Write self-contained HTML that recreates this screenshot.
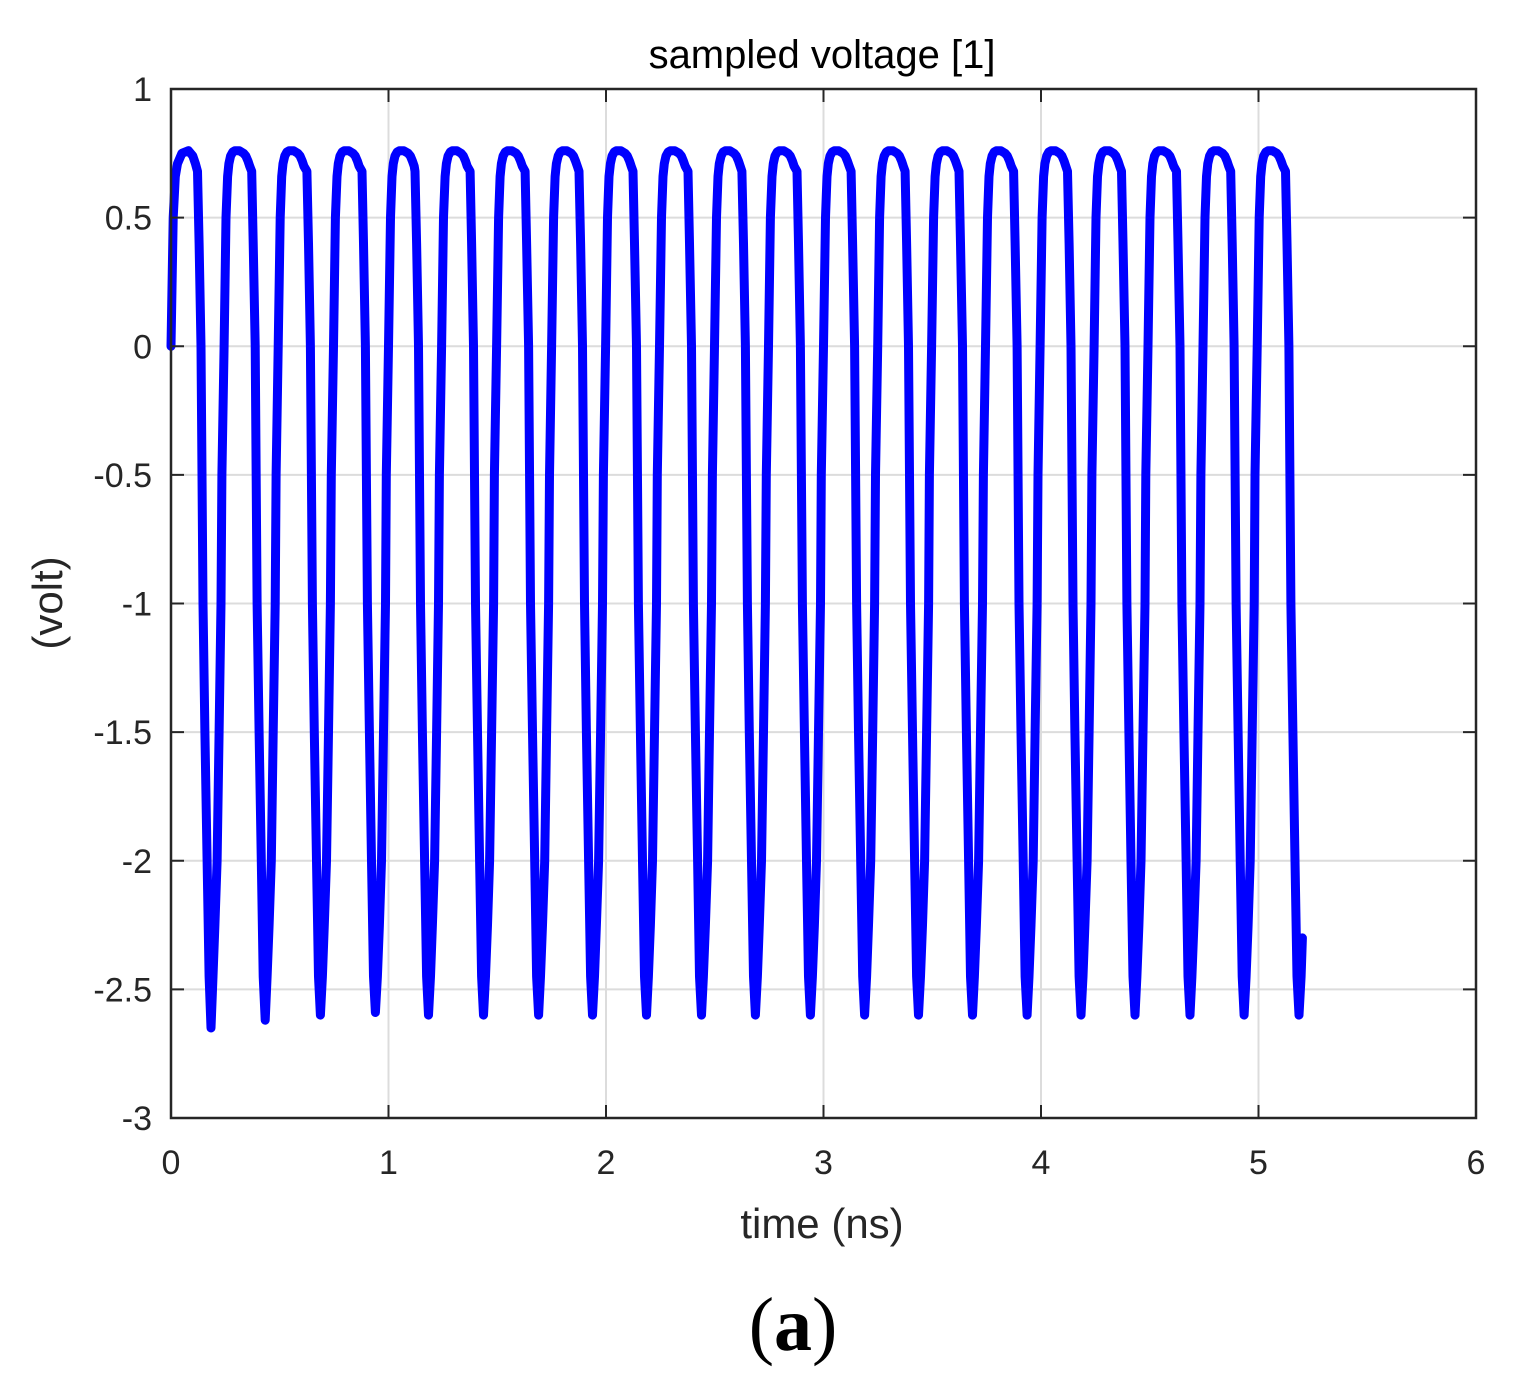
<!DOCTYPE html>
<html><head><meta charset="utf-8"><style>
body{margin:0;background:#fff;}
svg{display:block;font-family:"Liberation Sans",Arial,sans-serif;}
</style></head><body>
<svg id="chart" width="1539" height="1381">
<rect x="0" y="0" width="1539" height="1381" fill="#fff"/>
<g id="grid"></g>
<g id="series"></g>
<rect x="171" y="89" width="1305" height="1029" fill="none" stroke="#262626" stroke-width="2.5"/>
<g id="ticks"></g>
<text x="822" y="68" text-anchor="middle" font-size="40" fill="#000">sampled voltage [1]</text>
<text x="822" y="1238" text-anchor="middle" font-size="42" fill="#262626">time (ns)</text>
<text transform="translate(62,603) rotate(-90)" text-anchor="middle" font-size="42" fill="#262626">(volt)</text>
<text x="793" y="1350" text-anchor="middle" font-size="76" font-family="Liberation Serif,serif" fill="#000">(<tspan font-weight="bold">a</tspan>)</text>
</svg>
<script>
const xTicks=[0,1,2,3,4,5,6];
const yTicks=[1,0.5,0,-0.5,-1,-1.5,-2,-2.5,-3];
const yTickLabels=["1","0.5","0","-0.5","-1","-1.5","-2","-2.5","-3"];
const minTimes=[0.184,0.433,0.687,0.94,1.184,1.437,1.69,1.938,2.186,2.439,2.687,2.94,3.189,3.437,3.685,3.936,4.184,4.432,4.685,4.934,5.186];
const minValues=[-2.65,-2.62,-2.6,-2.59,-2.6,-2.6,-2.6,-2.6,-2.6,-2.6,-2.6,-2.6,-2.6,-2.6,-2.6,-2.6,-2.6,-2.6,-2.6,-2.6,-2.6];
const cycleOffsets=[-0.062,-0.055,-0.046,-0.037,-0.028,-0.018,-0.009,0,0.009,0.018,0.028,0.037,0.046,0.05,0.06,0.069,0.076,0.082,0.09,0.1,0.11,0.13,0.15,0.16,0.17,0.178];
const cycleValues=[0.68,0.4,0,-1,-1.5,-2,-2.45,null,-2.45,-2.25,-2,-1.5,-1,-0.5,0,0.5,0.66,0.71,0.74,0.755,0.76,0.76,0.75,0.74,0.72,0.7];
const startTimes=[0,0.01,0.02,0.03,0.05,0.08,0.1,0.112];
const startValues=[0.0,0.5,0.66,0.71,0.75,0.76,0.74,0.71];
const endTimes=[5.196,5.202];
const endValues=[-2.45,-2.3];
const X=t=>171+t*217.5, Y=v=>89+(1-v)*257.25;
const NS="http://www.w3.org/2000/svg";
const grid=document.getElementById('grid'),ticks=document.getElementById('ticks'),series=document.getElementById('series');
function mk(tag,attrs,parent){const e=document.createElementNS(NS,tag);for(const k in attrs)e.setAttribute(k,attrs[k]);parent.appendChild(e);return e;}
xTicks.forEach((t,i)=>{
 if(i>0&&i<xTicks.length-1){const g=mk('line',{x1:X(t),x2:X(t),y1:89,y2:1118,stroke:'#dcdcdc','stroke-width':2},grid);
 
 }
 const a=mk('line',{x1:X(t),x2:X(t),y1:1118,y2:1105,stroke:'#262626','stroke-width':2},ticks);
 
 
 const b=mk('line',{x1:X(t),x2:X(t),y1:89,y2:102,stroke:'#262626','stroke-width':2},ticks);
 
 
 const l=mk('text',{x:X(t),y:1174,'text-anchor':'middle','font-size':34,fill:'#262626'},ticks);l.textContent=t;
 
 
});
yTicks.forEach((v,i)=>{
 if(i>0&&i<yTicks.length-1){const g=mk('line',{x1:171,x2:1476,y1:Y(v),y2:Y(v),stroke:'#dcdcdc','stroke-width':2},grid);
 
 }
 const a=mk('line',{x1:171,x2:184,y1:Y(v),y2:Y(v),stroke:'#262626','stroke-width':2},ticks);
 
 
 const b=mk('line',{x1:1463,x2:1476,y1:Y(v),y2:Y(v),stroke:'#262626','stroke-width':2},ticks);
 
 
 const l=mk('text',{x:152,y:Y(v)+12,'text-anchor':'end','font-size':34,fill:'#262626'},ticks);l.textContent=yTickLabels[i];
 
 
});
let pts=[];
startTimes.forEach((t,i)=>pts.push([t,startValues[i]]));
minTimes.forEach((m,k)=>{
 cycleOffsets.forEach((o,j)=>{
  if(k===minTimes.length-1&&o>0.005)return;
  const v=cycleValues[j]===null?minValues[k]:cycleValues[j];
  if(m+o<=pts[pts.length-1][0])return;
  pts.push([m+o,v]);
 });
});
endTimes.forEach((t,i)=>pts.push([t,endValues[i]]));
const d=pts.map((p,i)=>(i?'L':'M')+X(p[0]).toFixed(1)+','+Y(p[1]).toFixed(1)).join(' ');
const path=mk('path',{d:d,fill:'none',stroke:'#0000ff','stroke-width':9,'stroke-linejoin':'round','stroke-linecap':'round'},series);


</script>
</body></html>
